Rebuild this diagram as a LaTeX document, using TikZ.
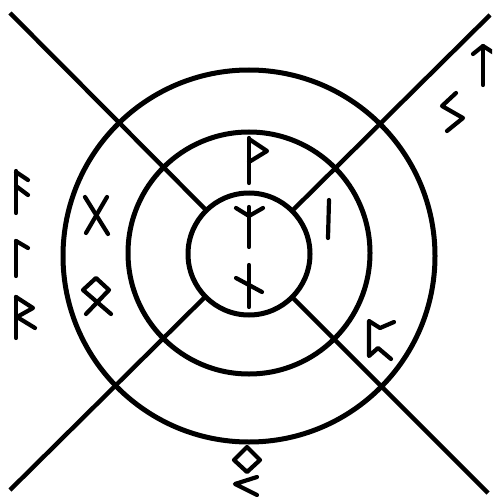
\documentclass[tikz,border=0pt]{standalone}
\begin{document}
\begin{tikzpicture}[x=1pt,y=-1pt,
  ring/.style={line width=5pt},
  ray/.style={line width=4.4pt},
  rune/.style={line width=4.2pt,line cap=round,line join=round}]
\useasboundingbox (0,0) rectangle (492,497);
\clip (0,0) rectangle (492,497);
\coordinate (c) at (249,254);
% crossing rays
\draw[ray] (10,13) -- (205,209);
\draw[ray] (293,298) -- (488,493);
\draw[ray] (490,15) -- (293,210);
\draw[ray] (205,297) -- (10,490);
% rings
\draw[ring] (249,256) circle (186);
\draw[ring] (249,253) circle (121);
\draw[ring] (c) circle (61);
% inner circle runes
\draw[rune] (249,138) -- (249,183);
\draw[rune] (249,139) -- (267,151) -- (249,162);
\draw[rune] (249,207) -- (249,247);
\draw[rune] (236,208) -- (249,216) -- (263,208);
\draw[rune] (249,265) -- (249,307);
\draw[rune] (236,278) -- (262,292);
% left band
\draw[rune] (85,197) -- (108,234);
\draw[rune] (107,197) -- (86,233);
\draw[rune] (97,302) -- (83,290) -- (96,278) -- (109,290) -- (86,314);
\draw[rune] (97,302) -- (111,314);
% right band
\draw[rune] (329,200) -- (328,238);
\draw[rune] (394,322) -- (380,328) -- (369,321) -- (369,356) -- (378,348) -- (391,359);
% far left
\draw[rune] (16,171) -- (16,213);
\draw[rune] (16,172) -- (28,180);
\draw[rune] (16,186) -- (28,195);
\draw[rune] (16,241) -- (16,276);
\draw[rune] (16,241) -- (28,248);
\draw[rune] (16,297) -- (16,338);
\draw[rune] (16,297) -- (33,308) -- (17,317) -- (35,328);
% top right
\draw[rune] (483,46) -- (483,85);
\draw[rune] (473,54) -- (483,46) -- (494,53);
\draw[rune] (456,93) -- (442,106) -- (463,118) -- (447,131);
% bottom
\draw[rune] (247,447) -- (260,460) -- (247,472) -- (234,460) -- cycle;
\draw[rune] (257,477) -- (235,484) -- (257,495);
\end{tikzpicture}
\end{document}
